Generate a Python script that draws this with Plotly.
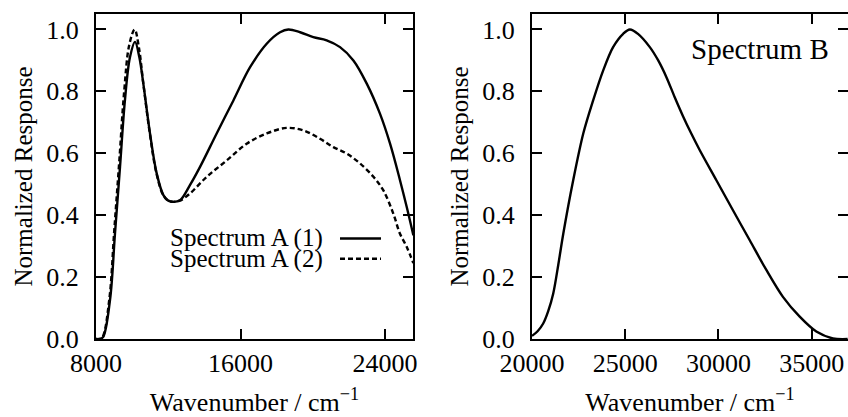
import plotly.graph_objects as go

# ---- Data: Spectrum A (left panel) ----
a1_x = [8000, 8200, 8390, 8775, 9050, 9330, 9600, 9880, 10160, 10400, 10620, 10990, 11360, 11730,
        12000, 12280, 12650, 13200, 13760, 14680, 15600, 16530, 17450, 18190, 18650, 19300, 20030,
        20770, 21510, 22250, 22990, 23720, 24280, 24830, 25200, 25570]
a1_y = [0.0, 0.0, 0.006, 0.126, 0.34, 0.556, 0.77, 0.91, 0.96, 0.91, 0.825, 0.664, 0.535, 0.465,
        0.447, 0.443, 0.448, 0.497, 0.556, 0.664, 0.77, 0.878, 0.954, 0.991, 1.0, 0.991, 0.975,
        0.965, 0.943, 0.9, 0.825, 0.728, 0.631, 0.513, 0.427, 0.335]

a2_x = [8000, 8180, 8360, 8740, 9010, 9290, 9560, 9840, 10140, 10380, 10600, 10970, 11340, 11720,
        12000, 12280, 12650, 13200, 14130, 15240, 16340, 17450, 18550, 19480, 20400, 21140,
        21880, 22620, 23360, 23910, 24460, 24830, 25200, 25570]
a2_y = [0.0, 0.0, 0.006, 0.13, 0.35, 0.575, 0.8, 0.95, 1.0, 0.94, 0.835, 0.668, 0.537, 0.465,
        0.447, 0.443, 0.447, 0.47, 0.524, 0.577, 0.631, 0.664, 0.682, 0.674, 0.647, 0.62,
        0.599, 0.567, 0.524, 0.48, 0.405, 0.34, 0.298, 0.245]

# ---- Data: Spectrum B (right panel) ----
b_x = [20000, 20300, 20600, 20870, 21140, 21410, 21680, 22210, 22750, 23280, 23820, 24350, 24890,
       25250, 25700, 26320, 26770, 27210, 27650, 28100, 28550, 29000, 29890, 30780, 31680, 32570,
       33460, 34360, 35250, 36140, 36930]
b_y = [0.01, 0.025, 0.05, 0.09, 0.147, 0.24, 0.341, 0.513, 0.664, 0.771, 0.868, 0.943, 0.986,
       1.0, 0.985, 0.943, 0.9, 0.846, 0.782, 0.72, 0.663, 0.61, 0.513, 0.416, 0.319, 0.223,
       0.136, 0.072, 0.024, 0.002, 0.0]

left_ticks = [8000, 16000, 24000]
right_ticks = [20000, 25000, 30000, 35000]
y_ticks = [0.0, 0.2, 0.4, 0.6, 0.8, 1.0]

FONT = "Liberation Serif"
W, H = 848, 417
LW = 2.4

fig = go.Figure()
fig.add_trace(go.Scatter(x=a1_x, y=a1_y, mode="lines", name="Spectrum A (1)",
                         line=dict(color="black", width=LW, shape="spline", smoothing=1.0),
                         xaxis="x", yaxis="y"))
fig.add_trace(go.Scatter(x=a2_x, y=a2_y, mode="lines", name="Spectrum A (2)",
                         line=dict(color="black", width=LW, dash="5px,3px", shape="spline", smoothing=1.0),
                         xaxis="x", yaxis="y"))
fig.add_trace(go.Scatter(x=b_x, y=b_y, mode="lines", name="Spectrum B",
                         line=dict(color="black", width=LW, shape="spline", smoothing=0.9),
                         xaxis="x2", yaxis="y2"))

axis_common = dict(showline=True, linecolor="black", linewidth=2, mirror="ticks",
                   ticks="inside", ticklen=10, tickwidth=2, tickcolor="black",
                   showgrid=False, zeroline=False, automargin=False,
                   tickfont=dict(family=FONT, size=26, color="black"))

ytitle = dict(text="Normalized Response", font=dict(family=FONT, size=25, color="black"), standoff=7)
xtitle = dict(text="Wavenumber / cm<sup>−1</sup>", font=dict(family=FONT, size=26, color="black"), standoff=21)

fig.update_layout(
    template="none",
    width=W, height=H,
    margin=dict(l=0, r=0, t=14, b=78, autoexpand=False),
    paper_bgcolor="white", plot_bgcolor="white",
    showlegend=False,
    xaxis=dict(domain=[96 / W, 413 / W], range=[8000, 25550], tickvals=left_ticks,
               ticktext=[str(v) for v in left_ticks], anchor="y", title=xtitle,
               ticklabelstandoff=0, **axis_common),
    yaxis=dict(domain=[0, 1], range=[0, 1.05], tickvals=y_ticks,
               ticktext=[f"{v:.1f}" for v in y_ticks], anchor="x", title=ytitle,
               ticklabelstandoff=10, **axis_common),
    xaxis2=dict(domain=[532 / W, 1.0], range=[20000, 36950], tickvals=right_ticks,
                ticktext=[str(v) for v in right_ticks], anchor="y2", title=xtitle,
                ticklabelstandoff=0, **axis_common),
    yaxis2=dict(domain=[0, 1], range=[0, 1.05], tickvals=y_ticks,
                ticktext=[f"{v:.1f}" for v in y_ticks], anchor="x2", title=ytitle,
                ticklabelstandoff=10, **axis_common),
)

# custom gnuplot-style legend (text right-aligned, sample on the right)
legend_rows = [("Spectrum A (1)", "solid", 288), ("Spectrum A (2)", "5px,3px", 314)]
for label, dash, ypx in legend_rows:
    yp = 1 - ypx / H
    fig.add_annotation(xref="paper", yref="paper", x=325 / W, y=yp, text=label,
                       showarrow=False, xanchor="right", yanchor="middle",
                       font=dict(family=FONT, size=25, color="black"))
    fig.add_shape(type="line", xref="paper", yref="paper", x0=340 / W, x1=381 / W,
                  y0=yp, y1=yp, line=dict(color="black", width=LW, dash=dash))

fig.add_annotation(xref="paper", yref="paper", x=831 / W, y=1 - 45 / H, text="Spectrum B",
                   showarrow=False, xanchor="right", yanchor="middle",
                   font=dict(family=FONT, size=29, color="black"))

fig.write_html("out.html", post_script="document.body.style.margin='0';",
               config={"displayModeBar": False})
